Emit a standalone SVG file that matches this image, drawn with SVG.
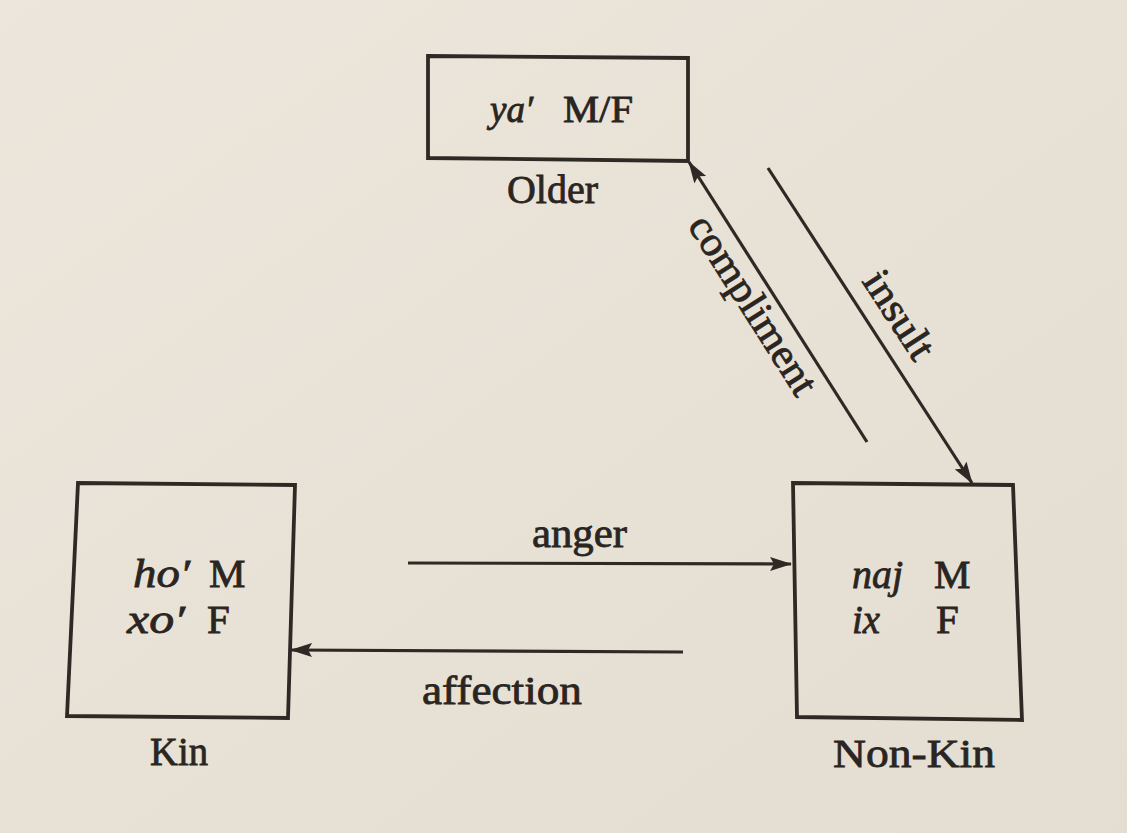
<svg xmlns="http://www.w3.org/2000/svg" width="1127" height="833" viewBox="0 0 1127 833">
  <defs>
    <linearGradient id="paper" x1="0" y1="0" x2="1" y2="1">
      <stop offset="0" stop-color="#ece6dc"/>
      <stop offset="0.5" stop-color="#e8e1d6"/>
      <stop offset="1" stop-color="#e4ddd1"/>
    </linearGradient>
    <marker id="arrow" viewBox="0 0 22 16" refX="21" refY="8" markerWidth="22" markerHeight="16" markerUnits="userSpaceOnUse" orient="auto">
      <path d="M0,1 L22,8 L0,15 L4,8 Z" fill="#2e2925"/>
    </marker>
    <style>
      .box { fill: none; stroke: #2e2925; stroke-width: 3.8; stroke-linejoin: miter; }
      .conn { fill: none; stroke: #2e2925; stroke-width: 3.2; }
      text { font-family: "Liberation Serif", "Times New Roman", serif; fill: #2a2521; stroke: #2a2521; stroke-width: 0.8px; }
      .lbl { font-size: 41px; }
      .it { font-style: italic; }
      .in { font-size: 41px; }
    </style>
  </defs>
  <rect x="0" y="0" width="1127" height="833" fill="url(#paper)"/>

  <g id="older">
    <path class="box" d="M428,56 L688,58 L688,161 L428,158 Z"/>
    <text x="490" y="122" class="it" font-size="37">ya′</text>
    <text x="563" y="122" font-size="37" textLength="70" lengthAdjust="spacingAndGlyphs">M/F</text>
    <text x="507" y="203" class="lbl" font-size="38" textLength="91" lengthAdjust="spacingAndGlyphs">Older</text>
  </g>

  <g id="kin">
    <path class="box" d="M78,483 L295,485 L288,718 L67,716 Z"/>
    <text x="133" y="587" class="in it" textLength="57" lengthAdjust="spacingAndGlyphs">ho′</text>
    <text x="209" y="587" class="in">M</text>
    <text x="127" y="633" class="in it" textLength="58" lengthAdjust="spacingAndGlyphs">xo′</text>
    <text x="207" y="633" class="in">F</text>
    <text x="150" y="765" class="lbl" textLength="58" lengthAdjust="spacingAndGlyphs">Kin</text>
  </g>

  <g id="nonkin">
    <path class="box" d="M793,483 L1013,485 L1022,720 L797,717 Z"/>
    <text x="852" y="588" class="in it" textLength="51" lengthAdjust="spacingAndGlyphs">naj</text>
    <text x="934" y="588" class="in">M</text>
    <text x="852" y="633" class="in it" textLength="28" lengthAdjust="spacingAndGlyphs">ix</text>
    <text x="936" y="633" class="in">F</text>
    <text x="833" y="767" class="lbl" textLength="162" lengthAdjust="spacingAndGlyphs">Non-Kin</text>
  </g>

  <g id="connectors">
    <line class="conn" x1="867" y1="442" x2="689" y2="162" marker-end="url(#arrow)"/>
    <line class="conn" x1="768" y1="168" x2="972" y2="483" marker-end="url(#arrow)"/>
    <line class="conn" x1="408" y1="563" x2="791" y2="564" marker-end="url(#arrow)"/>
    <line class="conn" x1="683" y1="652" x2="291" y2="650" marker-end="url(#arrow)"/>
    <text transform="translate(742,312) rotate(57.6)" class="lbl" text-anchor="middle" textLength="205" lengthAdjust="spacingAndGlyphs">compliment</text>
    <text transform="translate(888,322) rotate(57)" class="lbl" text-anchor="middle" textLength="98" lengthAdjust="spacingAndGlyphs">insult</text>
    <text x="532" y="547" class="lbl" textLength="95" lengthAdjust="spacingAndGlyphs">anger</text>
    <text x="422" y="704" class="lbl" textLength="160" lengthAdjust="spacingAndGlyphs">affection</text>
  </g>
</svg>
